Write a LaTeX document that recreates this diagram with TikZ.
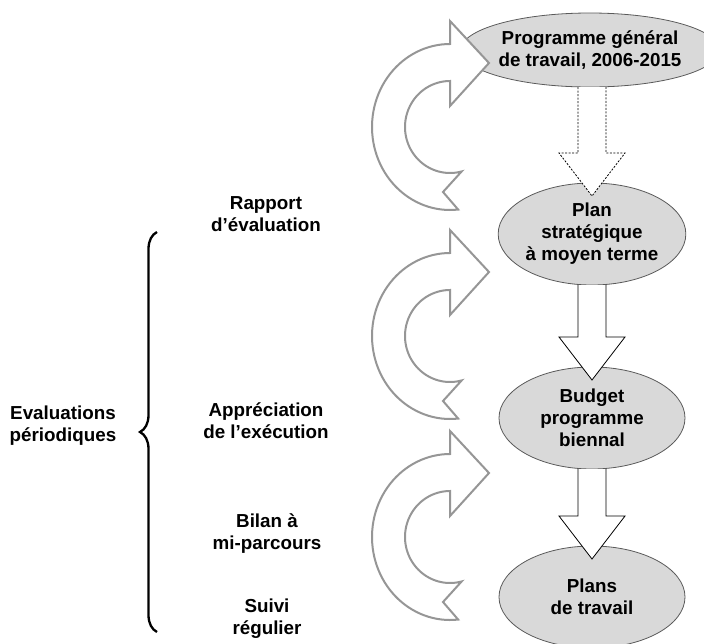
\documentclass[tikz,border=0pt]{standalone}
\usepackage{fontspec}
\setmainfont{Liberation Sans}
\usetikzlibrary{shapes.geometric,calc,decorations.pathreplacing}

\definecolor{shadegray}{RGB}{217,217,217}
\definecolor{rimgray}{RGB}{90,90,90}
\definecolor{loopgray}{RGB}{150,150,150}

\tikzset{
	cyclearrow/.pic={
		\draw[loopgray, fill=white, line width=2pt]
			(0,-83) -- plot[domain=-90:-276, samples=60] ({78*cos(\x)},{83*sin(\x)})
			-- (-7,65)
			-- plot[domain=-285:-90, samples=60] ({45*cos(\x)},{46*sin(\x)})
			-- (0,-21) -- (39,-64) -- (0,-106) -- cycle;
	},
	bigarrow/.style={to path={
		($(\tikztostart.south -| \tikztotarget.north)+(-14,0)$)
		-- ($(\tikztotarget.north)+(-14,-30)$)
		-- ($(\tikztotarget.north)+(-33,-30)$)
		-- ($(\tikztotarget.north)+(0,13)$)
		-- ($(\tikztotarget.north)+(33,-30)$)
		-- ($(\tikztotarget.north)+(14,-30)$)
		-- ($(\tikztostart.south -| \tikztotarget.north)+(14,0)$)}}
}

\begin{document}
\begin{tikzpicture}[x=1pt, y=-1pt, font=\fontsize{18.8}{22}\selectfont\bfseries]
		\useasboundingbox (0,0) rectangle (704,643);
		\begin{scope}[every node/.style={ellipse,draw=rimgray,fill=shadegray,line width=0.8pt,
			align=center,inner sep=0pt,outer sep=0pt,minimum width=186,minimum height=102}]
			\node[minimum width=228, minimum height=74] (prog) at (590,50) {Programme général\\de travail, 2006-2015};
			\node (plan) at (592,234) {Plan\\stratégique\\à moyen terme};
			\node (budget) at (592,418) {Budget\\programme\\biennal};
			\node (travail) at (592,597) {Plans\\de travail};
		\end{scope}
		% feedback loops
		\foreach \cy in {127,336,537}
			\pic at (450,\cy) {cyclearrow};
		\begin{scope}[every edge/.style={draw=black,fill=white,line width=0.8pt}]
			\path (prog) edge[bigarrow, dash pattern=on 2pt off 1.5pt] (plan);
			\path (plan) edge[bigarrow] (budget);
			\path (budget) edge[bigarrow] (travail);
		\end{scope}
		\begin{scope}[every node/.style={align=center}]
			\node (rapport) at (266,214) {Rapport\\d’évaluation};
			\node (appreciation) at (266,421) {Appréciation\\de l’exécution};
			\node (bilan) at (267,534) {Bilan à\\mi-parcours};
			\node (suivi) at (267,619) {Suivi\\régulier};
			\node (evals) at (63,426) {Evaluations\\périodiques};
		\end{scope}
		\coordinate (brace top) at (157,232);
		\coordinate (brace bottom) at (157,632);
		\draw[line width=2.3pt, decorate, decoration={brace, amplitude=17pt}] (brace bottom) -- (brace top);
	\end{tikzpicture}
\end{document}
